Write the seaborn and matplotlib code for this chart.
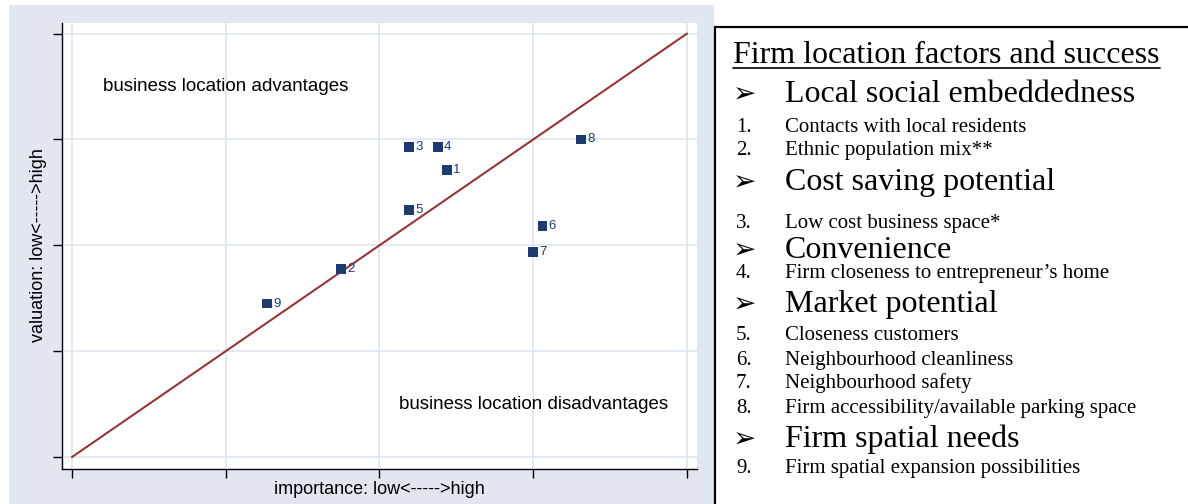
import matplotlib
matplotlib.use("Agg")
import matplotlib.pyplot as plt
import seaborn as sns
import pandas as pd
from matplotlib.patches import Rectangle
from matplotlib.lines import Line2D

# factor scores
factor_ids = [1, 2, 3, 4, 5, 6, 7, 8, 9]
importance = [3.44, 2.75, 3.19, 3.38, 3.19, 4.06, 4.00, 4.31, 2.27]
valuation = [3.71, 2.78, 3.93, 3.93, 3.33, 3.18, 2.94, 4.00, 2.45]
diag = [1, 5]
ticks = [1, 2, 3, 4, 5]

# legend panel text
panel_title = "Firm location factors and success"
groups = ["Local social embeddedness", "Cost saving potential", "Convenience",
          "Market potential", "Firm spatial needs"]
group_items = [
    ["Contacts with local residents", "Ethnic population mix**"],
    ["Low cost business space*"],
    ["Firm closeness to entrepreneur\u2019s home"],
    ["Closeness customers", "Neighbourhood cleanliness", "Neighbourhood safety",
     "Firm accessibility/available parking space"],
    ["Firm spatial expansion possibilities"],
]

df = pd.DataFrame({"id": factor_ids, "importance": importance, "valuation": valuation})

navy = "#1F3B6E"
maroon = "#93363B"
region = "#E1E6F0"

sns.set_theme(style="white")
plt.rcParams["font.family"] = ["Liberation Sans", "DejaVu Sans"]
plt.rcParams["text.color"] = "black"
plt.rcParams["axes.labelcolor"] = "black"

W, H = 1188, 504
fig = plt.figure(figsize=(W / 100, H / 100), dpi=100)
fig.patch.set_facecolor("white")


def fx(px):
    return px / W


def fy(py):
    return 1 - py / H


# stata-like graph region
fig.patches.append(Rectangle((fx(9), 0), fx(714) - fx(9), fy(5), transform=fig.transFigure,
                             facecolor=region, edgecolor="none", zorder=-5))

ax = fig.add_axes([fx(62), fy(469), fx(697) - fx(62), fy(23) - fy(469)])
ax.set_zorder(2)
ax.set_facecolor("white")

sns.lineplot(x=diag, y=diag, color=maroon, linewidth=1.5, ax=ax, zorder=2)
sns.scatterplot(data=df, x="importance", y="valuation", marker="s", color=navy,
                s=50, edgecolor="none", ax=ax, zorder=3)
for i, xv, yv in zip(df["id"], df["importance"], df["valuation"]):
    ax.annotate(str(i), (xv, yv), xytext=(4.5, 0), textcoords="offset points",
                va="center", ha="left", fontsize=9.5, color=navy)

ax.text(2, 4.5, "business location advantages", ha="center", va="center", fontsize=13.5)
ax.text(4, 1.5, "business location disadvantages", ha="center", va="center", fontsize=13.5)

ax.set_xlim(0.935, 5.065)
ax.set_ylim(0.887, 5.10)
ax.set_xticks(ticks)
ax.set_yticks(ticks)
ax.set_xticklabels([])
ax.set_yticklabels([])
ax.tick_params(direction="out", length=6.5, width=1, color="black", bottom=True, left=True)
ax.grid(True, color=region, linewidth=1.3)
ax.set_axisbelow(True)
for s in ["top", "right"]:
    ax.spines[s].set_visible(False)
for s in ["left", "bottom"]:
    ax.spines[s].set_color("black")
    ax.spines[s].set_linewidth(1)

ax.set_xlabel("importance: low<----->high", fontsize=13)
ax.set_ylabel("valuation: low<----->high", fontsize=13)
ax.xaxis.set_label_coords(0.5, (469 - 489) / 446)
ax.xaxis.label.set_va("center")
ax.yaxis.set_label_coords((39 - 62) / 635, 0.501)
ax.yaxis.label.set_va("center")

# legend box (runs off the page on right/bottom)
fig.patches.append(Rectangle((fx(715), -0.2), 0.6, fy(27) + 0.2, transform=fig.transFigure,
                             facecolor="none", edgecolor="black", linewidth=1.6, zorder=1))

serif = ["Liberation Serif", "DejaVu Serif"]
t = fig.text(fx(733), fy(63), panel_title, fontsize=23, family=serif, va="baseline")
fig.canvas.draw()
bb = t.get_window_extent(fig.canvas.get_renderer())
fig.lines.append(Line2D([bb.x0 / W, bb.x1 / W], [fy(68), fy(68)], transform=fig.transFigure,
                        color="black", linewidth=1.2))

group_base = [102, 190, 258, 312, 447]
item_base = [[132, 155], [228], [278], [340, 365, 388, 413], [473]]
n = 1
for g, gb, items, ibs in zip(groups, group_base, group_items, item_base):
    fig.text(fx(733), fy(gb + 1), "\u27a2", fontsize=20, family=["DejaVu Sans"],
             weight="bold", va="baseline")
    fig.text(fx(785), fy(gb), g, fontsize=23, family=serif, va="baseline")
    for it, ib in zip(items, ibs):
        fig.text(fx(736), fy(ib), f"{n}.", fontsize=15, family=serif, va="baseline")
        fig.text(fx(785), fy(ib), it, fontsize=15, family=serif, va="baseline")
        n += 1

fig.savefig("out.png", dpi=100)
